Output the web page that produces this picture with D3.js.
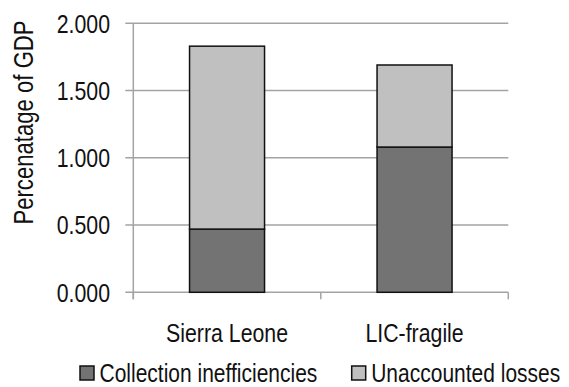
<!DOCTYPE html>
<html>

<head>
  <style>
    body {
      margin: 0;
      background: #fff;
    }

    text {
      font-family: "Liberation Sans Narrow", "Arial Narrow", "Liberation Sans", Arial, sans-serif;
      fill: #111;
    }
  </style>
  <script src="https://d3js.org/d3.v7.min.js"></script>
</head>

<body>
  <svg id="chart" width="569" height="387"></svg>
  <script>
    const categories = ["Sierra Leone", "LIC-fragile"];
    const collectionInefficiencies = [0.47, 1.08];
    const unaccountedLosses = [1.36, 0.61];
    const yTicks = [0, 0.5, 1, 1.5, 2];
    const seriesNames = ["Collection inefficiencies", "Unaccounted losses"];
    const seriesColors = ["#737373", "#c0c0c0"];

    const svg = d3.select("#chart");
    const plotLeft = 133.3, plotRight = 508.3, plotTop = 23.3, plotBottom = 292.3;
    // no narrow font installed: squeeze a regular one horizontally
    const narrow = " scale(0.82,1)";

    const x = d3.scaleBand().domain(categories).range([plotLeft, plotRight])
      .paddingInner(0.6).paddingOuter(0.3);
    const y = d3.scaleLinear().domain([0, 2]).range([plotBottom, plotTop]);

    // gridlines + y ticks
    svg.append("g").selectAll("line")
      .data(yTicks)
      .enter().append("line")
      .attr("x1", plotLeft - 8).attr("x2", plotRight)
      .attr("y1", d => y(d)).attr("y2", d => y(d))
      .attr("stroke", "#a3a3a3").attr("stroke-width", 1.5);

    svg.append("g").selectAll("text")
      .data(yTicks)
      .enter().append("text")
      .attr("transform", d => "translate(110," + y(d) + ")" + narrow)
      .attr("dy", "0.36em")
      .attr("text-anchor", "end")
      .style("font-size", "26px")
      .text(d => d3.format(".3f")(d));

    // y axis line
    svg.append("line")
      .attr("x1", plotLeft).attr("x2", plotLeft)
      .attr("y1", plotTop).attr("y2", plotBottom + 7)
      .attr("stroke", "#a3a3a3").attr("stroke-width", 1.5);

    // category tick marks
    const catEdges = [plotLeft].concat(categories.map(c => x(c) + x.bandwidth() + x.step() * 0.3));
    svg.append("g").selectAll("line")
      .data(catEdges)
      .enter().append("line")
      .attr("x1", d => d).attr("x2", d => d)
      .attr("y1", plotBottom).attr("y2", plotBottom + 7)
      .attr("stroke", "#a3a3a3").attr("stroke-width", 1.5);

    // stacked bars
    const rows = categories.map((c, i) => ({ cat: c, a: collectionInefficiencies[i], b: unaccountedLosses[i] }));
    const stack = d3.stack().keys(["a", "b"])(rows);

    svg.append("g").selectAll("g")
      .data(stack)
      .enter().append("g")
      .attr("fill", (d, i) => seriesColors[i])
      .selectAll("rect")
      .data(d => d)
      .enter().append("rect")
      .attr("x", d => x(d.data.cat))
      .attr("y", d => y(d[1]))
      .attr("width", x.bandwidth())
      .attr("height", d => y(d[0]) - y(d[1]))
      .attr("stroke", "#111").attr("stroke-width", 1.5);

    // category labels
    svg.append("g").selectAll("text")
      .data(categories)
      .enter().append("text")
      .attr("transform", d => "translate(" + (x(d) + x.bandwidth() / 2) + ",342)" + narrow)
      .attr("text-anchor", "middle")
      .style("font-size", "26px")
      .text(d => d);

    // y title
    svg.append("text")
      .attr("transform", "translate(33,122.5) rotate(-90)" + narrow)
      .attr("text-anchor", "middle")
      .style("font-size", "27px")
      .text("Percenatage of GDP");

    // legend
    const legendX = [80, 351.7];
    const legend = svg.append("g").selectAll("g")
      .data(seriesNames)
      .enter().append("g")
      .attr("transform", (d, i) => "translate(" + legendX[i] + ",366)");
    legend.append("rect")
      .attr("width", 14).attr("height", 14)
      .attr("fill", (d, i) => seriesColors[i])
      .attr("stroke", "#111").attr("stroke-width", 1.5);
    legend.append("text")
      .attr("transform", "translate(19.5,15.5) scale(0.84,1)")
      .style("font-size", "25px")
      .text(d => d);
  </script>
</body>

</html>
